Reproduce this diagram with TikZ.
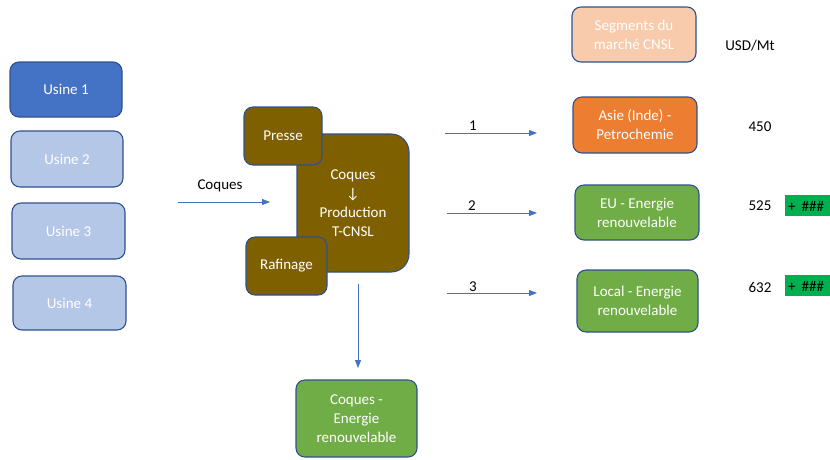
\documentclass[tikz,border=0pt]{standalone}
\usepackage{fontspec}
\setmainfont{Carlito}
\usetikzlibrary{arrows.meta}
\definecolor{bord}{HTML}{2F528F}
\definecolor{blueA}{HTML}{4472C4}
\definecolor{blueL}{HTML}{B4C7E7}
\definecolor{brown}{HTML}{7F6000}
\definecolor{orangeA}{HTML}{ED7D31}
\definecolor{greenA}{HTML}{70AD47}
\definecolor{peach}{HTML}{F8CBAD}
\definecolor{greenB}{HTML}{00B050}
\tikzset{
  box/.style={draw=bord, line width=1.1pt, rounded corners=9pt, text=white, align=center,
    inner sep=0pt, font=\fontsize{15}{19}\selectfont},
  conn/.style={draw=blueA, line width=0.8pt, -{Triangle[length=8pt,width=6pt]}},
  lbl/.style={text=black, inner sep=0pt, font=\fontsize{15}{19}\selectfont},
}
\begin{document}
\begin{tikzpicture}[x=1pt,y=-1pt]
\useasboundingbox (0,0) rectangle (830,459);
% left column
\node[box, fill=blueA, minimum width=112pt, minimum height=55pt] (u1) at (66,89.5) {Usine 1};
\node[box, fill=blueL, minimum width=112pt, minimum height=56pt] (u2) at (67,159) {Usine 2};
\node[box, fill=blueL, minimum width=113pt, minimum height=56pt] (u3) at (68.5,231) {Usine 3};
\node[box, fill=blueL, minimum width=113pt, minimum height=54pt] (u4) at (69.5,303) {Usine 4};
% center
\node[box, fill=brown, rounded corners=18pt, minimum width=112pt, minimum height=138pt] (prod) at (353,203) {Coques\\↓\\Production\\T-CNSL};
\node[box, fill=brown, minimum width=78pt, minimum height=58pt] (presse) at (283,136) {Presse};
\node[box, fill=brown, minimum width=81pt, minimum height=58pt] (raf) at (286.5,266) {Rafinage};
\node[box, fill=greenA, minimum width=121pt, minimum height=77pt] (ce) at (356.5,418.5) {Coques -\\Energie\\renouvelable};
% right column
\node[box, fill=peach, minimum width=124pt, minimum height=55pt] (seg) at (634,34.5) {Segments du\\marché CNSL};
\node[box, fill=orangeA, minimum width=124pt, minimum height=56pt] (asie) at (635,125) {Asie (Inde) -\\Petrochemie};
\node[box, fill=greenA, minimum width=124pt, minimum height=55pt] (eu) at (637,212.5) {EU - Energie\\renouvelable};
\node[box, fill=greenA, minimum width=121pt, minimum height=62pt] (loc) at (637.5,301) {Local - Energie\\renouvelable};
% values
\node[lbl] (usd) at (750,46) {USD/Mt};
\node[lbl] (v1) at (760,127) {450};
\node[lbl] (v2) at (760,206) {525};
\node[lbl] (v3) at (760,287) {632};
\node[fill=greenB, minimum width=45pt, minimum height=21pt, inner sep=0pt, anchor=west] (g2) at (785,205.5) {};
\node[fill=greenB, minimum width=45pt, minimum height=21pt, inner sep=0pt, anchor=west] (g3) at (785,285.5) {};
\node[lbl, anchor=west] (t2) at (788,206) {+\hspace{6pt}\#\#\#};
\node[lbl, anchor=west] (t3) at (788,286) {+\hspace{6pt}\#\#\#};
% connectors
\coordinate (cA) at (178,202); \coordinate (cB) at (270,202);
\coordinate (dA) at (358,284); \coordinate (dB) at (358,368);
\coordinate (a1) at (445,133); \coordinate (b1) at (537,133);
\coordinate (a2) at (447,213); \coordinate (b2) at (537,213);
\coordinate (a3) at (447,293); \coordinate (b3) at (537,293);
\draw[conn] (cA) -- (cB);
\draw[conn] (dA) -- (dB);
\draw[conn] (a1) -- (b1);
\draw[conn] (a2) -- (b2);
\draw[conn] (a3) -- (b3);
\node[lbl] (lc) at (220,186) {Coques};
\node[lbl] (l1) at (473,126) {1};
\node[lbl] (l2) at (472,206) {2};
\node[lbl] (l3) at (473,287) {3};
\end{tikzpicture}
\end{document}
